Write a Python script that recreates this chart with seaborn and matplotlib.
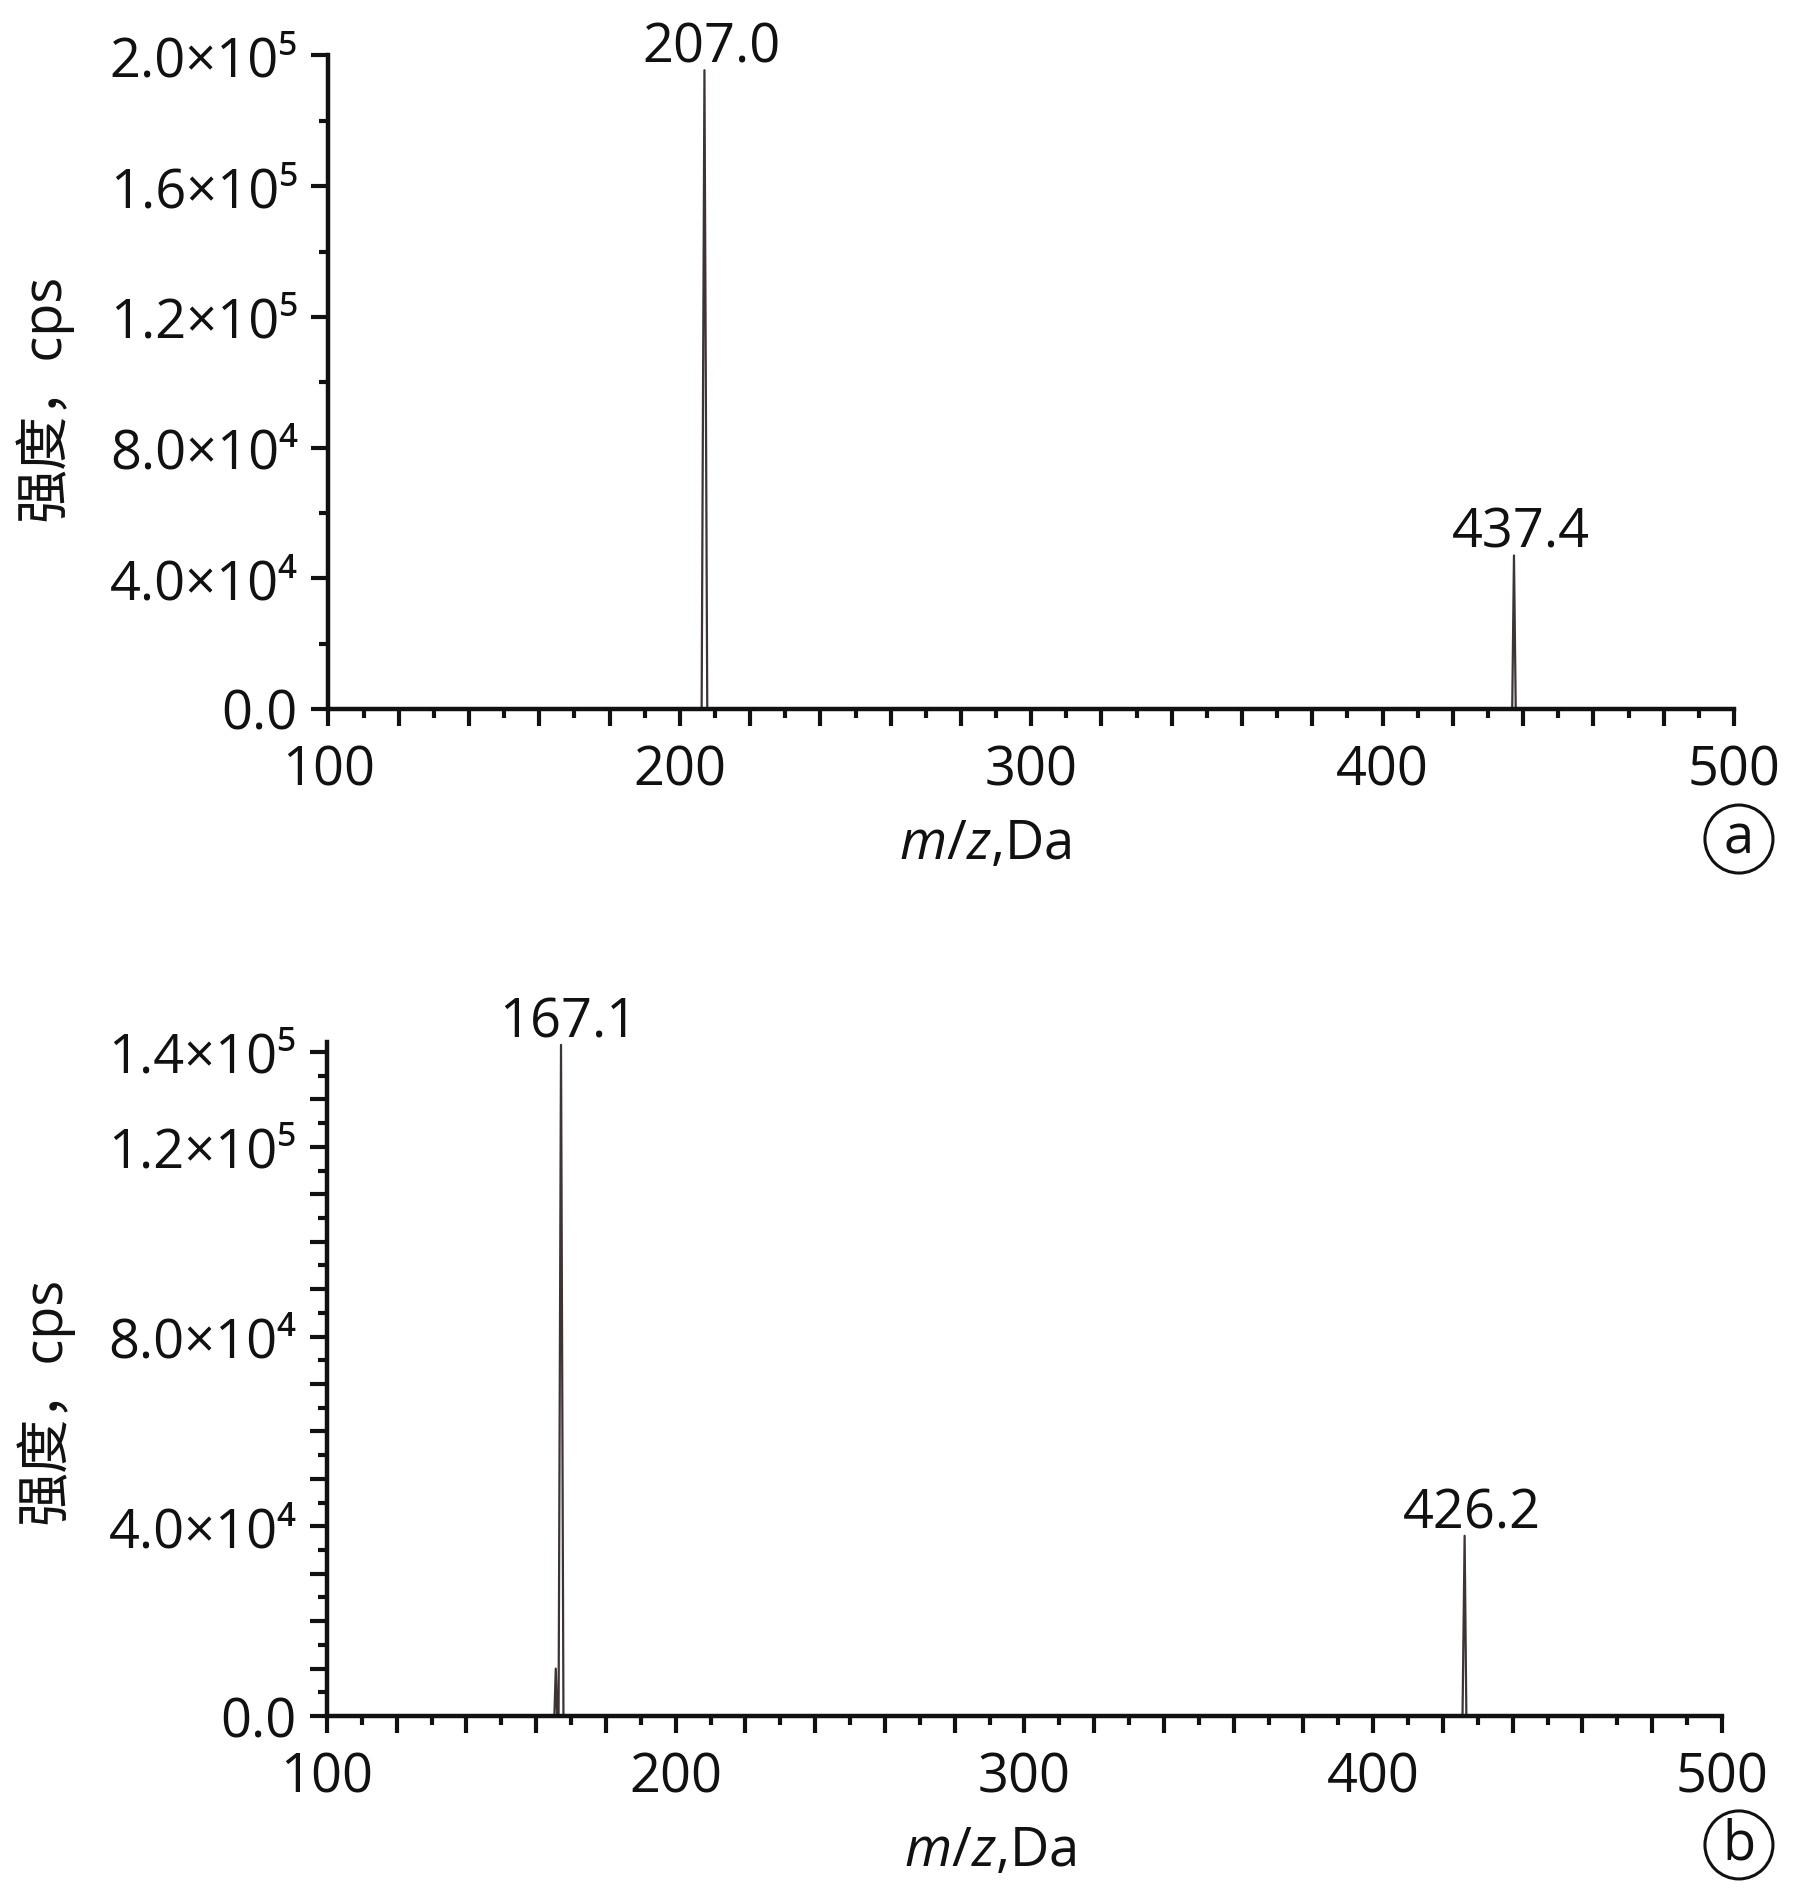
import matplotlib
matplotlib.use('Agg')
import matplotlib.pyplot as plt
from matplotlib.ticker import MultipleLocator, FuncFormatter
import seaborn as sns

# spectrum (a): m/z and intensity (cps) points of the trace
mz_a = [100.0, 206.2, 207.0, 207.8, 436.9, 437.4, 437.9, 500.0]
int_a = [0, 0, 195500, 0, 0, 47000, 0, 0]
peak_mz_a = [207.0, 437.4]
peak_int_a = [195500, 47000]
peak_txt_a = ['207.0', '437.4']

# spectrum (b)
mz_b = [100.0, 165.2, 165.6, 166.0, 166.4, 167.1, 167.8, 425.6, 426.2, 426.7, 500.0]
int_b = [0, 0, 10000, 0, 0, 141500, 0, 0, 38000, 0, 0]
peak_mz_b = [167.1, 426.2]
peak_int_b = [141500, 38000]
peak_txt_b = ['167.1', '426.2']

SUP = {'4': '\u2074', '5': '\u2075'}
LINE_COLOR = '#3d3434'
FS = 39

sns.set_style('ticks')
plt.rcParams['font.family'] = ['Open Sans', 'Noto Sans CJK SC', 'DejaVu Sans']
plt.rcParams['mathtext.fontset'] = 'custom'
plt.rcParams['mathtext.it'] = 'Open Sans:italic'
plt.rcParams['mathtext.rm'] = 'Open Sans'


def sci_fmt(labels):
    def f(v, pos):
        if abs(v) < 1e-6:
            return '0.0'
        if not any(abs(v - l) < 1 for l in labels):
            return ''
        e = len(str(int(round(v)))) - 1
        m = v / 10 ** e
        return f'{m:.1f}×10{SUP[str(e)]}'
    return f


def x_fmt(v, pos):
    return f'{int(round(v))}' if abs(v % 100) < 1e-6 else ''


def style_axis(ax, ymax, ymajor, yminor, ylabels):
    sns.despine(ax=ax)
    for s in ['left', 'bottom']:
        ax.spines[s].set_linewidth(3.2)
        ax.spines[s].set_color('#111111')
        ax.spines[s].set_zorder(5)
    ax.set_xlim(100, 500)
    ax.set_ylim(0, ymax)
    ax.xaxis.set_major_locator(MultipleLocator(20))
    ax.xaxis.set_minor_locator(MultipleLocator(10))
    ax.xaxis.set_major_formatter(FuncFormatter(x_fmt))
    ax.yaxis.set_major_locator(MultipleLocator(ymajor))
    ax.yaxis.set_minor_locator(MultipleLocator(yminor))
    ax.yaxis.set_major_formatter(FuncFormatter(sci_fmt(ylabels)))
    ax.tick_params(which='major', length=12, width=3, color='#111111',
                   labelsize=FS, labelcolor='#111111')
    ax.tick_params(axis='x', which='major', pad=13)
    ax.tick_params(axis='y', which='major', pad=10)
    ax.tick_params(which='minor', length=6.5, width=3, color='#111111')
    ax.set_xlabel(r'$\mathit{m/z}$,Da', fontsize=FS, color='#111111')
    ax.set_ylabel('强度，cps', fontsize=FS, color='#111111')


fig = plt.figure(figsize=(17.97, 18.94), dpi=100)
ax1 = fig.add_axes([0.1828, 0.62566, 0.7821, 0.34504])
ax2 = fig.add_axes([0.18197, 0.09398, 0.77629, 0.35560])

sns.lineplot(x=mz_a, y=int_a, ax=ax1, color=LINE_COLOR, linewidth=1.6,
             estimator=None, sort=False)
sns.lineplot(x=mz_b, y=int_b, ax=ax2, color=LINE_COLOR, linewidth=1.6,
             estimator=None, sort=False)

style_axis(ax1, 2.0e5, 4e4, 2e4, [0, 4e4, 8e4, 1.2e5, 1.6e5, 2.0e5])
style_axis(ax2, 1.42e5, 1e4, 5e3, [0, 4e4, 8e4, 1.2e5, 1.4e5])

# peak labels sit right on top of each peak
for ax, xs, ys, ts in [(ax1, peak_mz_a, peak_int_a, peak_txt_a),
                       (ax2, peak_mz_b, peak_int_b, peak_txt_b)]:
    for x, y, t in zip(xs, ys, ts):
        ax.annotate(t, (x, y), xytext=(5, -4), textcoords='offset points',
                    ha='center', va='bottom', fontsize=FS, color='#111111')

ax1.xaxis.set_label_coords(0.467, -0.165)
ax2.xaxis.set_label_coords(0.475, -0.160)
ax1.yaxis.set_label_coords(-0.182, 0.476)
ax2.yaxis.set_label_coords(-0.182, 0.468)

for y, letter in [(0.557, 'a'), (0.0259, 'b')]:
    fig.text(0.9677, y, letter, ha='center', va='center', fontsize=FS,
             color='#111111',
             bbox=dict(boxstyle='circle,pad=0.12', fc='white', ec='#111111', lw=2.2))

fig.savefig('out.png', dpi=100, facecolor='white')
